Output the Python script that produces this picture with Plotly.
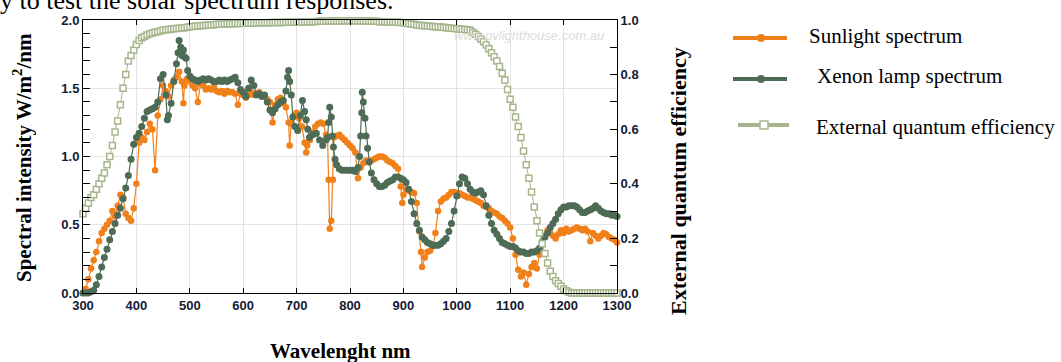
import plotly.graph_objects as go

# ---------------- data ----------------
sun_wl = [300, 305, 310, 315, 320, 325, 330, 335, 340, 345,
          350, 355, 360, 365, 370, 375, 380, 385, 390, 395,
          400, 405, 410, 415, 420, 425, 430, 435, 440, 445,
          450, 455, 460, 465, 470, 475, 480, 485, 488, 490,
          495, 500, 505, 510, 515, 520, 525, 530, 535, 540,
          545, 550, 555, 560, 565, 570, 575, 580, 585, 590,
          595, 600, 605, 610, 615, 620, 625, 630, 635, 640,
          645, 650, 655, 660, 665, 670, 675, 680, 685, 687,
          690, 695, 700, 705, 710, 715, 718, 720, 725, 730,
          735, 740, 745, 750, 755, 758, 760, 762, 765, 768,
          770, 775, 780, 785, 790, 795, 800, 805, 810, 815,
          820, 825, 830, 835, 840, 845, 850, 855, 860, 865,
          870, 875, 880, 885, 890, 895, 898, 900, 905, 910,
          915, 920, 925, 930, 933, 935, 940, 945, 950, 955,
          960, 965, 970, 975, 980, 985, 990, 995, 1000, 1005,
          1010, 1015, 1020, 1025, 1030, 1035, 1040, 1045, 1050, 1055,
          1060, 1065, 1070, 1075, 1080, 1085, 1090, 1095, 1100, 1105,
          1110, 1115, 1120, 1125, 1130, 1135, 1140, 1145, 1150, 1155,
          1160, 1165, 1170, 1175, 1180, 1185, 1190, 1195, 1200, 1205,
          1210, 1215, 1220, 1225, 1230, 1235, 1240, 1245, 1250, 1255,
          1260, 1265, 1270, 1275, 1280, 1285, 1290, 1295, 1300]
sun_val = [0.00, 0.03, 0.10, 0.18, 0.24, 0.30, 0.38, 0.44, 0.47, 0.50,
           0.53, 0.60, 0.56, 0.64, 0.72, 0.70, 0.58, 0.55, 0.53, 0.62,
           0.80, 1.10, 1.14, 1.12, 1.18, 1.24, 1.20, 0.90, 1.30, 1.42,
           1.52, 1.48, 1.44, 1.52, 1.56, 1.58, 1.62, 1.55, 1.39, 1.52,
           1.57, 1.55, 1.52, 1.50, 1.40, 1.53, 1.52, 1.49, 1.50, 1.49,
           1.51, 1.48, 1.47, 1.48, 1.46, 1.48, 1.47, 1.47, 1.46, 1.38,
           1.46, 1.45, 1.43, 1.45, 1.47, 1.45, 1.46, 1.47, 1.45, 1.44,
           1.42, 1.40, 1.25, 1.38, 1.42, 1.43, 1.39, 1.36, 1.25, 1.08,
           1.24, 1.30, 1.32, 1.28, 1.22, 1.10, 1.03, 1.08, 1.12, 1.18,
           1.22, 1.24, 1.25, 1.24, 1.16, 1.14, 0.83, 0.47, 0.53, 0.83,
           1.14, 1.15, 1.16, 1.14, 1.12, 1.10, 1.08, 1.06, 1.03, 0.84,
           0.92, 0.95, 0.97, 0.96, 0.97, 0.98, 0.99, 1.00, 1.00, 0.99,
           0.97, 0.96, 0.95, 0.93, 0.91, 0.78, 0.66, 0.72, 0.76, 0.75,
           0.74, 0.73, 0.66, 0.45, 0.30, 0.19, 0.26, 0.30, 0.31, 0.34,
           0.44, 0.60, 0.67, 0.69, 0.70, 0.72, 0.74, 0.74, 0.73, 0.73,
           0.72, 0.71, 0.70, 0.70, 0.69, 0.68, 0.67, 0.66, 0.64, 0.63,
           0.62, 0.60, 0.59, 0.58, 0.56, 0.55, 0.53, 0.51, 0.48, 0.40,
           0.28, 0.17, 0.12, 0.15, 0.06, 0.14, 0.19, 0.22, 0.18, 0.28,
           0.38, 0.42, 0.46, 0.44, 0.42, 0.40, 0.43, 0.46, 0.44, 0.47,
           0.45, 0.46, 0.47, 0.48, 0.47, 0.46, 0.47, 0.45, 0.38, 0.44,
           0.42, 0.40, 0.42, 0.44, 0.43, 0.41, 0.40, 0.39, 0.37]

xe_wl = [300, 305, 310, 315, 320, 325, 330, 335, 340, 345,
         350, 355, 360, 365, 370, 375, 380, 385, 390, 395,
         400, 405, 410, 415, 420, 425, 430, 435, 440, 445,
         450, 455, 458, 460, 465, 470, 475, 478, 480, 483,
         485, 488, 490, 493, 496, 500, 505, 510, 515, 520,
         525, 530, 535, 540, 545, 550, 555, 560, 565, 570,
         575, 580, 585, 590, 595, 600, 605, 610, 615, 620,
         625, 630, 635, 640, 645, 650, 655, 660, 665, 670,
         675, 680, 683, 685, 687, 690, 693, 697, 702, 707,
         711, 715, 718, 721, 724, 730, 737, 743, 749, 755,
         758, 760, 762, 765, 767, 769, 772, 775, 780, 785,
         790, 795, 800, 805, 810, 815, 818, 820, 822, 823,
         825, 828, 830, 833, 836, 840, 845, 850, 855, 860,
         865, 870, 875, 880, 885, 890, 895, 900, 905, 910,
         915, 920, 925, 930, 935, 940, 945, 950, 955, 960,
         965, 970, 975, 980, 985, 990, 995, 1000, 1005, 1010,
         1015, 1020, 1025, 1030, 1035, 1040, 1045, 1050, 1055, 1060,
         1065, 1070, 1075, 1080, 1085, 1090, 1095, 1100, 1105, 1110,
         1115, 1120, 1125, 1130, 1135, 1140, 1145, 1150, 1155, 1160,
         1165, 1170, 1175, 1180, 1185, 1190, 1195, 1200, 1205, 1210,
         1215, 1220, 1225, 1230, 1235, 1240, 1245, 1250, 1255, 1260,
         1265, 1270, 1275, 1280, 1285, 1290, 1295, 1300]
xe_val = [0.00, 0.00, 0.00, 0.01, 0.02, 0.06, 0.12, 0.19, 0.26, 0.32,
          0.39, 0.45, 0.51, 0.57, 0.62, 0.69, 0.77, 0.86, 0.98, 1.09,
          1.14, 1.17, 1.22, 1.28, 1.33, 1.34, 1.35, 1.36, 1.40, 1.57,
          1.60, 1.45, 1.27, 1.30, 1.39, 1.55, 1.68, 1.76, 1.85, 1.80,
          1.74, 1.78, 1.73, 1.72, 1.63, 1.59, 1.57, 1.56, 1.55, 1.56,
          1.57, 1.56, 1.57, 1.56, 1.55, 1.55, 1.56, 1.55, 1.56, 1.55,
          1.56, 1.57, 1.58, 1.54, 1.49, 1.47, 1.44, 1.50, 1.56, 1.52,
          1.45, 1.46, 1.44, 1.45, 1.40, 1.34, 1.32, 1.35, 1.38, 1.40,
          1.41, 1.48, 1.58, 1.63, 1.55, 1.45, 1.29, 1.22, 1.19, 1.30,
          1.41, 1.33, 1.27, 1.20, 1.14, 1.16, 1.17, 1.12, 1.08, 1.12,
          1.14, 1.25, 1.36, 1.29, 1.15, 1.07, 0.98, 0.94, 0.91, 0.90,
          0.90, 0.90, 0.90, 0.90, 0.89, 0.92, 1.00, 1.15, 1.32, 1.47,
          1.40, 1.28, 1.15, 1.06, 0.96, 0.88, 0.83, 0.80, 0.78, 0.78,
          0.79, 0.81, 0.82, 0.83, 0.85, 0.85, 0.84, 0.83, 0.81, 0.76,
          0.67, 0.58, 0.51, 0.46, 0.41, 0.39, 0.37, 0.36, 0.35, 0.35,
          0.35, 0.36, 0.38, 0.40, 0.45, 0.51, 0.60, 0.71, 0.80, 0.85,
          0.84, 0.80, 0.76, 0.74, 0.73, 0.74, 0.75, 0.72, 0.64, 0.57,
          0.51, 0.46, 0.43, 0.40, 0.37, 0.36, 0.35, 0.34, 0.34, 0.33,
          0.31, 0.30, 0.30, 0.29, 0.29, 0.30, 0.30, 0.31, 0.33, 0.37,
          0.41, 0.44, 0.48, 0.51, 0.54, 0.58, 0.61, 0.63, 0.63, 0.64,
          0.64, 0.64, 0.63, 0.61, 0.59, 0.59, 0.60, 0.61, 0.62, 0.64,
          0.62, 0.60, 0.59, 0.58, 0.58, 0.57, 0.57, 0.56]

eqe_wl = list(range(300, 1301, 5))
eqe_val = [0.29, 0.31, 0.33, 0.35, 0.36, 0.38, 0.40, 0.42, 0.44, 0.47,
           0.50, 0.54, 0.59, 0.63, 0.69, 0.75, 0.80, 0.85, 0.87, 0.89,
           0.91, 0.925, 0.935, 0.94, 0.945, 0.95,
           0.952, 0.955, 0.957, 0.96, 0.962, 0.964, 0.965, 0.966, 0.968, 0.969,
           0.970, 0.971, 0.972, 0.973, 0.975, 0.976, 0.977, 0.978, 0.979, 0.98,
           0.981, 0.982, 0.982, 0.983, 0.984, 0.984, 0.985, 0.985, 0.986, 0.986,
           0.986, 0.987, 0.987, 0.987, 0.988, 0.988, 0.988, 0.989, 0.989, 0.989,
           0.99, 0.99, 0.99, 0.99, 0.99, 0.991, 0.991, 0.991, 0.991, 0.991,
           0.992, 0.992, 0.992, 0.992, 0.993, 0.993, 0.993, 0.993, 0.994, 0.994,
           0.994, 0.994, 0.995, 0.995, 0.995, 0.995, 0.996, 0.996, 0.996, 0.996,
           0.996, 0.997, 0.997, 0.997, 0.997, 0.997, 0.997, 0.997, 0.996, 0.996,
           0.996, 0.996, 0.995, 0.995, 0.995, 0.994, 0.994, 0.994, 0.993, 0.993,
           0.993, 0.992, 0.992, 0.991, 0.99, 0.988, 0.987, 0.985, 0.984, 0.982,
           0.981, 0.98, 0.979, 0.978, 0.977, 0.976, 0.975, 0.975, 0.974, 0.973,
           0.972, 0.971, 0.97, 0.969, 0.968, 0.967, 0.966, 0.965, 0.964, 0.962,
           0.955, 0.948, 0.94, 0.93, 0.92, 0.908, 0.895, 0.88, 0.865, 0.85,
           0.83, 0.805, 0.78, 0.745, 0.71, 0.68, 0.645, 0.61, 0.57, 0.52,
           0.47, 0.42, 0.37, 0.315, 0.265, 0.22, 0.18, 0.145, 0.11, 0.08,
           0.06, 0.045, 0.035, 0.025, 0.015, 0.008, 0.003, 0, 0, 0,
           0, 0, 0, 0, 0, 0, 0, 0, 0, 0,
           0, 0, 0, 0, 0]

x_ticks = [300, 400, 500, 600, 700, 800, 900, 1000, 1100, 1200, 1300]
series_names = ["Sunlight spectrum", "Xenon lamp spectrum", "External quantum efficiency"]

# ---------------- styling ----------------
ORANGE = "#F2801A"
DGREEN = "#4E6B56"
LGREEN = "#A6B68C"
TICKC = "#141a33"
W, H = 1061, 362
L, R, T, B = 83, 617, 20, 293


def px(x):
    return (x - L) / (R - L)


def py(y):
    return (B - y) / (B - T)


fig = go.Figure()
fig.add_trace(go.Scatter(x=sun_wl, y=sun_val, mode="lines+markers", name=series_names[0],
                         line=dict(color=ORANGE, width=1.2),
                         marker=dict(color=ORANGE, size=6.5), cliponaxis=False, showlegend=False))
fig.add_trace(go.Scatter(x=xe_wl, y=xe_val, mode="lines+markers", name=series_names[1],
                         line=dict(color=DGREEN, width=1.2),
                         marker=dict(color=DGREEN, size=7), cliponaxis=False, showlegend=False))
fig.add_trace(go.Scatter(x=eqe_wl, y=eqe_val, mode="lines+markers", name=series_names[2], yaxis="y2",
                         line=dict(color=LGREEN, width=1),
                         marker=dict(symbol="square", color="white", size=6,
                                     line=dict(color=LGREEN, width=1.5)),
                         cliponaxis=False, showlegend=False))

tickfont = dict(family="Liberation Sans, Arial", size=13, color=TICKC, weight="bold")

fig.update_layout(
    width=W, height=H,
    margin=dict(l=L, r=W - R, t=T, b=H - B, pad=0),
    paper_bgcolor="white", plot_bgcolor="white",
    showlegend=False,
    xaxis=dict(range=[300, 1300], tickvals=x_ticks, ticks="inside", ticklen=5,
               tickcolor="black", showline=True, linecolor="black", linewidth=1,
               mirror="ticks", showgrid=True, gridcolor="#e4e4e4", gridwidth=1,
               zeroline=False, tickfont=tickfont, automargin=False),
    yaxis=dict(range=[0, 2], dtick=0.5, tickformat=".1f", ticks="inside", ticklen=7,
               tickcolor="black", showline=True, linecolor="black", linewidth=1,
               showgrid=True, gridcolor="#e4e4e4", zeroline=False, tickfont=tickfont,
               automargin=False,
               minor=dict(dtick=0.1, ticks="inside", ticklen=7, tickcolor="black", showgrid=False)),
    yaxis2=dict(range=[0, 1], dtick=0.2, tickformat=".1f", overlaying="y", side="right",
                ticks="inside", ticklen=7, tickcolor="black", showline=True, linecolor="black",
                linewidth=1, showgrid=False, zeroline=False, tickfont=tickfont, automargin=False,
                minor=dict(dtick=0.1, ticks="inside", ticklen=7, tickcolor="black")),
)

serif = "Liberation Serif, Times New Roman, serif"
annos = [
    dict(text="y to test the solar spectrum responses.", x=px(-2), y=py(17), xanchor="left",
         yanchor="bottom", font=dict(family=serif, size=26, color="black")),
    dict(text="<b>Spectral intensity W/m<sup>2</sup>/nm</b>", x=px(22), y=py(158), textangle=-90,
         xanchor="center", yanchor="middle", font=dict(family=serif, size=21, color="black")),
    dict(text="<b>External quantum efficiency</b>", x=px(678), y=py(181), textangle=-90,
         xanchor="center", yanchor="middle", font=dict(family=serif, size=22, color="black")),
    dict(text="<b>Wavelenght nm</b>", x=px(340), y=py(351), xanchor="center", yanchor="middle",
         font=dict(family=serif, size=21, color="black")),
    dict(text="<i>www.pvlighthouse.com.au</i>", x=px(529), y=py(35), xanchor="center",
         yanchor="middle", font=dict(family="Liberation Sans, Arial", size=13, color="#dcdcdc")),
    dict(text=series_names[0], x=px(807), y=py(36), xanchor="left", yanchor="middle",
         font=dict(family=serif, size=21, color="black")),
    dict(text=series_names[1], x=px(815), y=py(76), xanchor="left", yanchor="middle",
         font=dict(family=serif, size=21, color="black")),
    dict(text=series_names[2], x=px(814), y=py(127), xanchor="left", yanchor="middle",
         font=dict(family=serif, size=21, color="black")),
]
for a in annos:
    a.update(xref="paper", yref="paper", showarrow=False)
fig.update_layout(annotations=annos)

# manual legend keys
shapes = []
for (yk, col) in [(38, ORANGE), (79, DGREEN)]:
    shapes.append(dict(type="line", xref="paper", yref="paper", x0=px(733), x1=px(787),
                       y0=py(yk), y1=py(yk), line=dict(color=col, width=4)))
    shapes.append(dict(type="circle", xref="paper", yref="paper", x0=px(757), x1=px(765),
                       y0=py(yk + 4), y1=py(yk - 4), fillcolor=col, line=dict(color=col, width=0)))
shapes.append(dict(type="line", xref="paper", yref="paper", x0=px(738), x1=px(789),
                   y0=py(125), y1=py(125), line=dict(color=LGREEN, width=4)))
shapes.append(dict(type="rect", xref="paper", yref="paper", x0=px(760), x1=px(768),
                   y0=py(129), y1=py(121), fillcolor="white", line=dict(color=LGREEN, width=1.5)))
fig.update_layout(shapes=shapes)

fig.write_html("out.html", config={"displayModeBar": False},
               post_script="document.body.style.margin='0';document.body.style.overflow='hidden';")
